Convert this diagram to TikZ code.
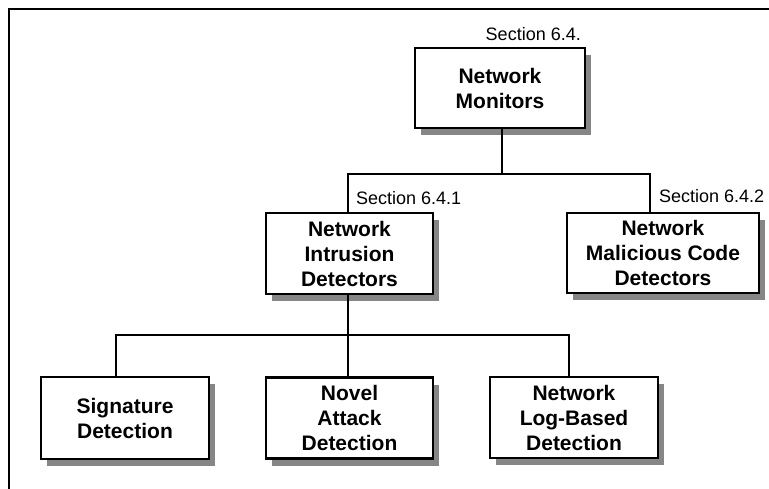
\documentclass[tikz,border=0pt]{standalone}
\usepackage{fontspec}
\setmainfont{Liberation Sans}
\usetikzlibrary{shadows}
\definecolor{shadowgray}{HTML}{868686}
\begin{document}
\begin{tikzpicture}[x=1pt,y=-1pt,
  box/.style={draw=black, line width=2.2pt, fill=white, inner sep=0pt, align=center,
    font=\bfseries\fontsize{21}{25}\selectfont,
    drop shadow={shadow xshift=6pt, shadow yshift=-7pt, fill=shadowgray, opacity=1}},
  conn/.style={line width=1.3pt},
  frameline/.style={line width=2pt},
  seclabel/.style={font=\fontsize{18}{20}\selectfont, inner sep=0pt}]
\useasboundingbox (0,0) rectangle (769,489);
\draw[frameline] (769,9) -- (9,9) -- (9,489);

\node[box, minimum width=170pt, minimum height=80pt] (top) at (500,88) {Network\\Monitors};
\node[box, minimum width=167pt, minimum height=81pt] (intr) at (349.5,253.5) {Network\\Intrusion\\Detectors};
\node[box, minimum width=192pt, minimum height=80pt] (mal) at (663,253) {Network\\Malicious Code\\Detectors};
\node[box, minimum width=168pt, minimum height=82pt] (sig) at (125,418) {Signature\\Detection};
\node[box, minimum width=167pt, minimum height=81pt] (nov) at (349.5,418) {Novel\\Attack\\Detection};
\node[box, minimum width=168pt, minimum height=81pt] (log) at (574,417.5) {Network\\Log-Based\\Detection};

\node[seclabel, anchor=base east] (s1) at (581,41) {Section 6.4.};
\node[seclabel, anchor=base west] (s2) at (356,205) {Section 6.4.1};
\node[seclabel, anchor=base west] (s3) at (659,203) {Section 6.4.2};

\coordinate (j1) at (502,174);
\coordinate (j2) at (348,335);
\draw[conn] ([xshift=2pt]top.south) -- (j1);
\draw[conn] ([xshift=-1.5pt]intr.north) |- (j1) -| ([xshift=-13pt]mal.north);
\draw[conn] ([xshift=-1.5pt]intr.south) -- ([xshift=-1.5pt]nov.north);
\draw[conn] ([xshift=-9pt]sig.north) |- (j2) -| ([xshift=-5pt]log.north);
\end{tikzpicture}
\end{document}
